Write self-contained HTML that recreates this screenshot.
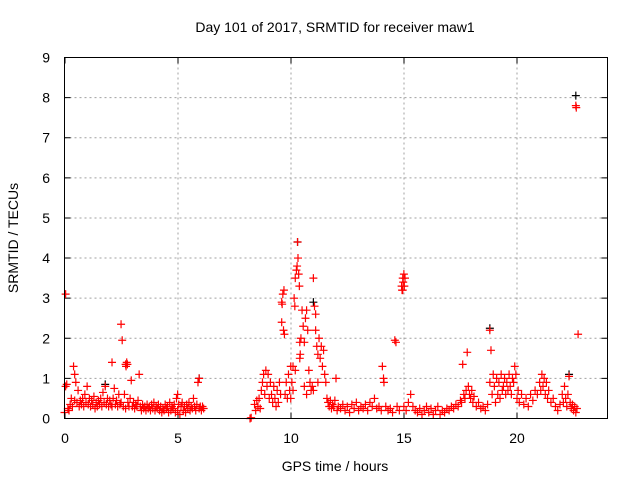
<!DOCTYPE html>
<html><head><meta charset="utf-8"><style>
body{margin:0;background:#fff}
svg text{font-family:"Liberation Sans",sans-serif;font-size:14px;fill:#000}
</style></head><body>
<svg id="chart" width="640" height="480" viewBox="0 0 640 480" xmlns="http://www.w3.org/2000/svg">
<text x="335" y="32" text-anchor="middle">Day 101 of 2017, SRMTID for receiver maw1</text>
<text x="335" y="471" text-anchor="middle">GPS time / hours</text>
<text transform="translate(18,238) rotate(-90)" text-anchor="middle">SRMTID / TECUs</text>
<g id="grid"></g>
<g id="ticks"></g>
<g id="marks"></g>
<rect x="64.5" y="57.5" width="543" height="361" fill="none" stroke="#000" stroke-width="1"/>
</svg>
<script>
const xTicks=[0,5,10,15,20];
const yTicks=[0,1,2,3,4,5,6,7,8,9];
const blackPoints=[[10.3,4.4],[11.0,2.9],[18.8,2.25],[22.3,1.1],[22.6,8.05],[1.8,0.85],[5.95,1.0]];
const points=[[0,0.15],[0.05,3.1],[0.05,0.8],[0.1,0.85],[0.15,0.25],[0.2,0.2],[0.25,0.35],[0.3,0.5],[0.35,0.3],[0.4,1.3],[0.45,1.1],[0.45,0.45],[0.5,0.9],[0.55,0.4],[0.6,0.7],[0.65,0.3],[0.7,0.45],[0.75,0.35],[0.8,0.5],[0.85,0.3],[0.9,0.6],[0.95,0.4],[1.0,0.8],[1.05,0.35],[1.1,0.5],[1.15,0.3],[1.2,0.45],[1.25,0.35],[1.3,0.55],[1.35,0.25],[1.4,0.4],[1.45,0.3],[1.5,0.45],[1.55,0.35],[1.6,0.5],[1.65,0.3],[1.7,0.65],[1.75,0.4],[1.8,0.8],[1.85,0.35],[1.9,0.5],[1.95,0.3],[2.0,0.45],[2.05,0.35],[2.1,1.4],[2.1,0.3],[2.15,0.5],[2.2,0.75],[2.25,0.35],[2.3,0.45],[2.35,0.3],[2.4,0.6],[2.45,0.35],[2.5,2.35],[2.55,1.95],[2.5,0.4],[2.6,0.3],[2.65,0.6],[2.7,1.35],[2.72,1.3],[2.75,1.4],[2.78,1.35],[2.7,0.25],[2.8,0.4],[2.85,0.3],[2.9,0.5],[2.95,0.95],[3.0,0.3],[3.05,0.4],[3.1,0.25],[3.15,0.35],[3.2,0.3],[3.25,0.45],[3.3,1.1],[3.35,0.3],[3.4,0.2],[3.45,0.35],[3.5,0.25],[3.55,0.3],[3.6,0.2],[3.65,0.35],[3.7,0.25],[3.75,0.3],[3.8,0.2],[3.85,0.35],[3.9,0.25],[3.95,0.4],[4.0,0.2],[4.05,0.3],[4.1,0.25],[4.15,0.35],[4.2,0.2],[4.25,0.3],[4.3,0.15],[4.35,0.25],[4.4,0.2],[4.45,0.35],[4.5,0.25],[4.55,0.3],[4.6,0.15],[4.65,0.4],[4.7,0.2],[4.75,0.3],[4.8,0.25],[4.85,0.35],[4.9,0.15],[4.95,0.5],[5.0,0.6],[5.0,0.2],[5.05,0.35],[5.1,0.1],[5.15,0.3],[5.2,0.4],[5.25,0.2],[5.3,0.3],[5.35,0.15],[5.4,0.35],[5.45,0.25],[5.5,0.4],[5.55,0.2],[5.6,0.3],[5.65,0.25],[5.7,0.5],[5.75,0.3],[5.8,0.2],[5.85,0.35],[5.9,0.9],[5.95,1.0],[5.95,0.25],[6.0,0.3],[6.05,0.2],[6.1,0.3],[6.15,0.25],
[8.2,0.0],[8.25,0.02],[8.4,0.35],[8.45,0.2],[8.5,0.45],[8.55,0.3],[8.6,0.5],[8.65,0.25],[8.7,0.7],[8.75,0.9],[8.8,1.1],[8.85,0.6],[8.9,1.2],[8.95,0.8],[9.0,1.1],[9.05,0.5],[9.1,0.9],[9.15,0.6],[9.2,0.4],[9.25,0.8],[9.3,0.5],[9.35,0.3],[9.4,0.7],[9.45,0.4],[9.5,0.9],[9.55,0.6],[9.6,2.9],[9.62,2.85],[9.65,3.1],[9.7,3.2],[9.68,2.2],[9.72,2.1],[9.6,2.4],[9.75,0.6],[9.8,0.9],[9.85,0.5],[9.9,1.1],[9.95,0.7],[10.0,1.3],[10.05,0.9],[10.1,1.3],[10.15,3.0],[10.18,2.8],[10.2,3.5],[10.25,3.7],[10.28,3.8],[10.3,4.4],[10.32,4.0],[10.35,3.6],[10.38,3.3],[10.4,1.9],[10.42,1.6],[10.45,2.0],[10.5,2.7],[10.55,2.3],[10.6,1.9],[10.65,2.5],[10.7,2.7],[10.75,2.2],[10.8,1.2],[10.85,0.9],[10.9,0.7],[10.95,0.8],[11.0,3.5],[11.05,2.8],[11.1,2.6],[11.1,2.2],[11.15,1.8],[11.2,1.6],[11.25,2.0],[11.3,1.5],[11.35,1.8],[11.4,1.3],[11.45,1.7],[11.5,1.1],[11.55,0.9],[11.6,0.5],[11.65,0.4],[11.7,0.3],[11.75,0.45],[11.8,0.25],[11.85,0.35],[11.9,0.3],[11.95,0.45],[12.0,1.0],[12.05,0.2],[12.1,0.3],[10.0,0.5],[10.1,0.7],[10.2,1.2],[10.4,1.5],[10.6,0.8],[10.7,0.6],[11.0,0.7],[11.2,0.9],
[12.2,0.25],[12.3,0.35],[12.4,0.2],[12.5,0.3],[12.6,0.15],[12.7,0.35],[12.8,0.25],[12.9,0.4],[13.0,0.2],[13.1,0.3],[13.2,0.25],[13.3,0.35],[13.4,0.2],[13.5,0.4],[13.6,0.3],[13.7,0.5],[13.8,0.25],[13.9,0.3],[14.0,0.2],[14.05,1.3],[14.1,1.0],[14.12,0.9],[14.2,0.3],[14.3,0.2],[14.4,0.25],[14.5,0.15],[14.6,1.95],[14.65,1.9],[14.7,0.3],[14.8,0.2],[14.9,3.3],[14.92,3.2],[14.95,3.5],[14.97,3.4],[15.0,3.6],[15.02,3.3],[15.05,3.5],[14.95,3.2],[15.0,0.3],[15.1,0.2],[15.2,0.4],[15.3,0.6],[15.4,0.3],[15.5,0.2],[15.6,0.15],[15.7,0.25],[15.8,0.1],[15.9,0.2],[16.0,0.3],[16.1,0.15],[16.2,0.25],[16.3,0.1],[16.4,0.2],[16.5,0.3],[16.6,0.1],[16.7,0.2],[16.8,0.15],[16.9,0.25],[17.0,0.2],[17.1,0.3],[17.2,0.25],[17.3,0.35],[17.4,0.3],[17.5,0.45],[17.55,0.4],[17.6,1.35],[17.65,0.6],[17.7,0.5],[17.75,0.7],[17.8,1.65],[17.85,0.8],[17.9,0.6],[17.95,0.5],[18.0,0.7],[18.05,0.4],[18.1,0.55],[18.2,0.3],[18.3,0.4],[18.4,0.25],[18.5,0.3],[18.6,0.2],[18.7,0.35],[18.8,2.2],[18.85,1.7],[18.8,0.9],[18.9,0.6],[18.95,1.1],[19.0,0.8],[19.05,0.4],[19.1,1.0],[19.15,0.6],[19.2,0.9],[19.25,0.5],[19.3,1.1],[19.35,0.7],[19.4,0.8],[19.45,1.0],[19.5,0.6],[19.55,0.9],[19.6,0.7],[19.65,1.1],[19.7,0.8],[19.75,0.6],[19.8,1.0],[19.85,0.9],[19.9,1.3],[19.95,1.1],[20.0,0.5],[20.05,0.7],[20.1,0.4],[20.2,0.6],[20.3,0.35],[20.4,0.5],[20.5,0.3],[20.6,0.6],[20.7,0.45],[20.8,0.7],[20.9,0.6],[21.0,0.9],[21.05,0.7],[21.1,1.1],[21.15,0.8],[21.2,1.0],[21.25,0.6],[21.3,0.9],[21.35,0.5],[21.4,0.7],[21.5,0.4],[21.6,0.5],[21.7,0.3],[21.8,0.2],[21.9,0.35],[22.0,0.6],[22.05,0.4],[22.1,0.8],[22.15,0.5],[22.2,0.3],[22.25,0.6],[22.3,1.05],[22.35,0.4],[22.4,0.25],[22.45,0.35],[22.5,0.2],[22.55,0.3],[22.6,7.8],[22.62,7.75],[22.6,0.15],[22.65,0.25],[22.7,2.1]];
const X0=64.5,X1=607.5,Y0=418.5,Y1=57.5,XMAX=24,YMAX=9;
function xs(v){return X0+(X1-X0)*v/XMAX;}
function ys(v){return Y0-(Y0-Y1)*v/YMAX;}
const NS='http://www.w3.org/2000/svg';
const grid=document.getElementById('grid'),ticks=document.getElementById('ticks'),marks=document.getElementById('marks');
function mk(tag,attrs,parent){const e=document.createElementNS(NS,tag);for(const k in attrs)e.setAttribute(k,attrs[k]);parent.appendChild(e);return e;}
xTicks.forEach(t=>{
  const x=Math.round(xs(t))+0.5-0.5;
  if(t>0){const g=mk('line',{x1:x,x2:x,y1:Y1,y2:Y0,stroke:'#a0a0a0','stroke-dasharray':'2,3'},grid);
  
  }
  const tk=mk('path',{d:`M${x},${Y0}v-6M${x},${Y1}v6`,stroke:'#000'},ticks);
  
  
  const l=mk('text',{x:x,y:443,'text-anchor':'middle'},ticks);l.textContent=t;
  
  
});
yTicks.forEach(t=>{
  const y=ys(t);
  if(t>0&&t<9){const g=mk('line',{x1:X0,x2:X1,y1:y,y2:y,stroke:'#a0a0a0','stroke-dasharray':'2,3'},grid);
  
  }
  const tk=mk('path',{d:`M${X0},${y}h6M${X1},${y}h-6`,stroke:'#000'},ticks);
  
  
  const l=mk('text',{x:50,y:y+5,'text-anchor':'end'},ticks);l.textContent=t;
  
  
});
function plus(p,color,name){
  const x=xs(p[0]),y=ys(p[1]);
  const e=mk('path',{d:`M${x-4},${y}h8M${x},${y-4}v8`,stroke:color,'stroke-width':1.2,fill:'none'},marks);
  
  
}
blackPoints.forEach(p=>plus(p,'#000','srmtid-point-black'));
points.forEach(p=>plus(p,'#ff0000','srmtid-point'));
</script>
</body></html>
